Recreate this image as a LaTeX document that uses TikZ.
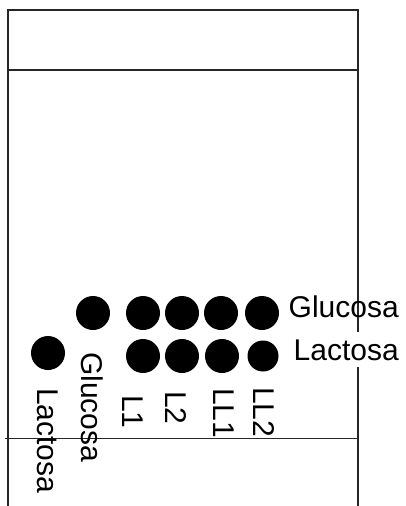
\documentclass[tikz,border=0pt]{standalone}
\usepackage{fontspec}
\setmainfont{Liberation Sans}
\usetikzlibrary{positioning}

\begin{document}
\begin{tikzpicture}[x=1pt, y=-1pt,
    spot/.style={circle, fill=black, inner sep=0pt, minimum size=34pt},
    lab/.style={inner sep=0pt, font=\fontsize{30}{32}\selectfont},
    lane/.style={lab, rotate=-90, anchor=base west},
    plate/.style={line width=1.4pt, black!85},
]
\useasboundingbox (0,0) rectangle (406,506);
%% Plate outline
\draw[plate] (8,506) -- (8,10) -- (358,10) -- (358,506);
\draw[plate] (8,70) -- (358,70);
\draw[plate, line width=1pt] (5,438) -- (358,438);
%% Row labels
\node[lab, anchor=base east] (glu) at (399,317) {Glucosa};
\node[lab, anchor=base east, fill=white, inner ysep=7pt] (lac) at (399,360) {Lactosa};
%% Spots
\foreach \x [count=\i] in {93,143,182,221,262} {
  \node[spot] (g\i) at (\x,313) {};
}
\node[spot] (l0) at (48,353) {};
\foreach \x [count=\i] in {143,182,222} {
  \node[spot] (l\i) at (\x,356) {};
}
\node[spot, minimum size=31pt] (l4) at (263,356) {};
%% Lane labels
\node[lane] (laneLac) at (37,388) {Lactosa};
\node[lane] (laneGlu) at (81,352) {Glucosa};
\node[lane] (laneL1) at (122,395) {L1};
\node[lane] (laneL2) at (165,391) {L2};
\node[lane] (laneLL1) at (213,388) {LL1};
\node[lane] (laneLL2) at (253,387) {LL2};
\end{tikzpicture}
\end{document}
